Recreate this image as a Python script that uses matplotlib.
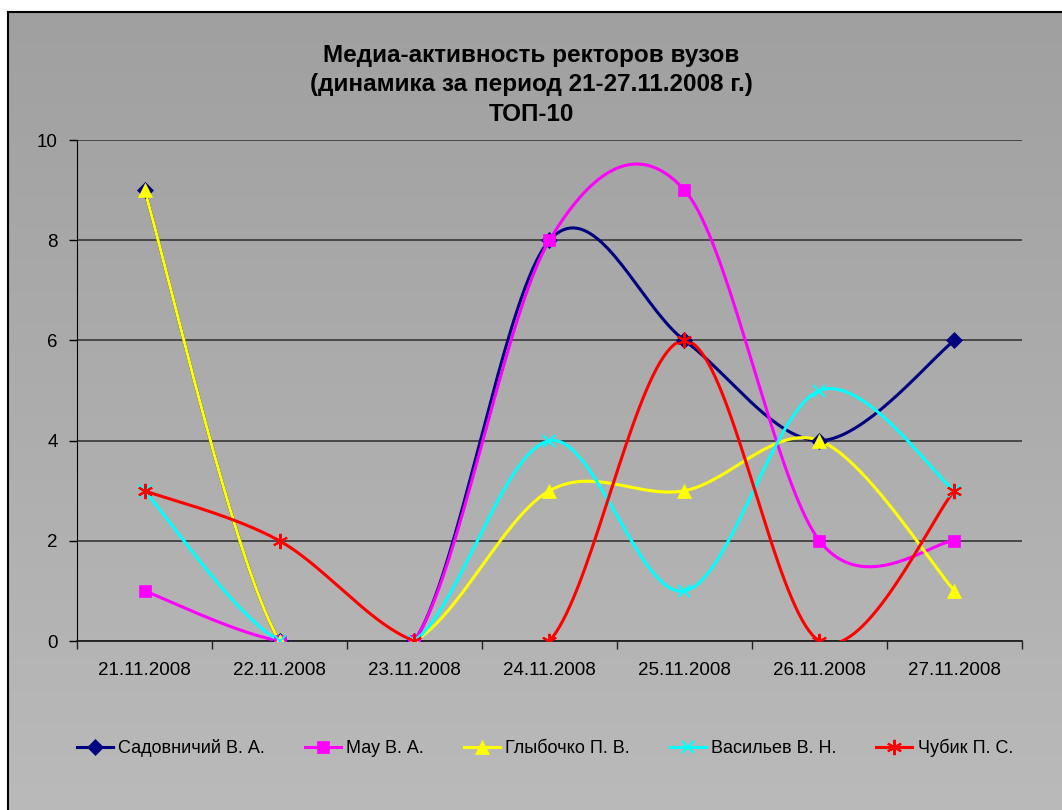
import numpy as np
import matplotlib
matplotlib.use('Agg')
import matplotlib.pyplot as plt

plt.rcParams['font.family'] = ['Liberation Sans', 'DejaVu Sans']

# data
dates = ['21.11.2008', '22.11.2008', '23.11.2008', '24.11.2008',
         '25.11.2008', '26.11.2008', '27.11.2008']
sadovnichy = [9, 0, 0, 8, 6, 4, 6]
mau = [1, 0, 0, 8, 9, 2, 2]
glybochko = [9, 0, 0, 3, 3, 4, 1]
vasiliev = [3, 0, 0, 4, 1, 5, 3]
chubik = [3, 2, 0, 0, 6, 0, 3]

series = [
    ('Садовничий В. А.', sadovnichy, '#000080', 'D', 8),
    ('Мау В. А.', mau, '#FF00FF', 's', 8),
    ('Глыбочко П. В.', glybochko, '#FFFF00', '^', 10),
    ('Васильев В. Н.', vasiliev, '#00FFFF', 'x', 9),
    ('Чубик П. С.', chubik, '#FF0000', (6, 2, 0), 11),
]


# Excel-like smoothed line: cubic bezier through points (Catmull-Rom tangents)
def smooth(y, n=40):
    pts = np.column_stack([np.arange(len(y)), y]).astype(float)
    ext = np.vstack([pts[0], pts, pts[-1]])
    t = np.linspace(0, 1, n)[:, None]
    out = []
    for i in range(len(pts) - 1):
        p0, p1, p2, p3 = ext[i], ext[i + 1], ext[i + 2], ext[i + 3]
        c1 = p1 + (p2 - p0) / 6
        c2 = p2 - (p3 - p1) / 6
        seg = (1 - t) ** 3 * p1 + 3 * (1 - t) ** 2 * t * c1 + 3 * (1 - t) * t ** 2 * c2 + t ** 3 * p2
        out.append(seg if i == 0 else seg[1:])
    return np.vstack(out)


W, H = 1062, 810
fig = plt.figure(figsize=(W / 100, H / 100), dpi=100)
fig.patch.set_facecolor('white')

# gradient chart area with black border on top/left
bg = fig.add_axes([8 / W, -0.01, 1.0, (H - 12) / H + 0.01], zorder=-5)
grad = np.linspace(0, 1, 256)[:, None]
cmap = matplotlib.colors.LinearSegmentedColormap.from_list('g', ['#A0A0A0', '#BABABA'])
bg.imshow(grad, aspect='auto', cmap=cmap, extent=[0, 1, 0, 1], origin='upper')
bg.set_xticks([])
bg.set_yticks([])
for s in ['right', 'bottom']:
    bg.spines[s].set_visible(False)
for s in ['left', 'top']:
    bg.spines[s].set_linewidth(1.5)
    bg.spines[s].set_color('black')

ax = fig.add_axes([77 / W, 1 - 641 / H, (1022 - 77) / W, (641 - 140) / H])
ax.patch.set_alpha(0)

for name, vals, col, mk, ms in series:
    curve = smooth(vals)
    ax.plot(curve[:, 0], curve[:, 1], color=col, lw=2.2, zorder=3)
    mew = 1.5 if mk in ('x', (6, 2, 0)) else 0.5
    ax.plot(range(len(vals)), vals, linestyle='none', marker=mk, color=col,
            markersize=ms, markeredgewidth=mew, markeredgecolor=col, zorder=4)
    ax.plot([], [], color=col, lw=2.2, marker=mk, markersize=ms,
            markeredgewidth=mew, markeredgecolor=col, label=name)

ax.set_xlim(-0.5, len(dates) - 0.5)
ax.set_ylim(0, 10)
ax.set_yticks(range(0, 11, 2))
ax.set_yticklabels([str(v) for v in range(0, 11, 2)], fontsize=13.5)
ax.set_xticks(range(len(dates)))
ax.set_xticklabels(dates, fontsize=13.5)
ax.set_xticks(np.arange(-0.5, len(dates), 1), minor=True)
ax.tick_params(axis='x', which='major', length=0, pad=15)
ax.tick_params(axis='x', which='minor', length=6, width=1, color='#202020')
ax.tick_params(axis='y', length=6, width=1, pad=8)
ax.yaxis.grid(True, color='#404040', lw=1.3)
ax.set_axisbelow(True)
for s in ['top', 'right']:
    ax.spines[s].set_visible(False)
ax.spines['left'].set_color('black')
ax.spines['bottom'].set_color('#202020')
ax.spines['bottom'].set_linewidth(1.3)

fig.text(0.5, 1 - 85 / H,
         'Медиа-активность ректоров вузов\n(динамика за период 21-27.11.2008 г.)\nТОП-10',
         ha='center', va='center', fontsize=17.5, fontweight='bold', linespacing=1.38)

fig.legend(loc='center', bbox_to_anchor=(0.513, 1 - 748 / H), ncol=5, frameon=False,
           fontsize=13, handlelength=2.0, handletextpad=0.3, columnspacing=2.2)

fig.savefig('out.png', dpi=100)
